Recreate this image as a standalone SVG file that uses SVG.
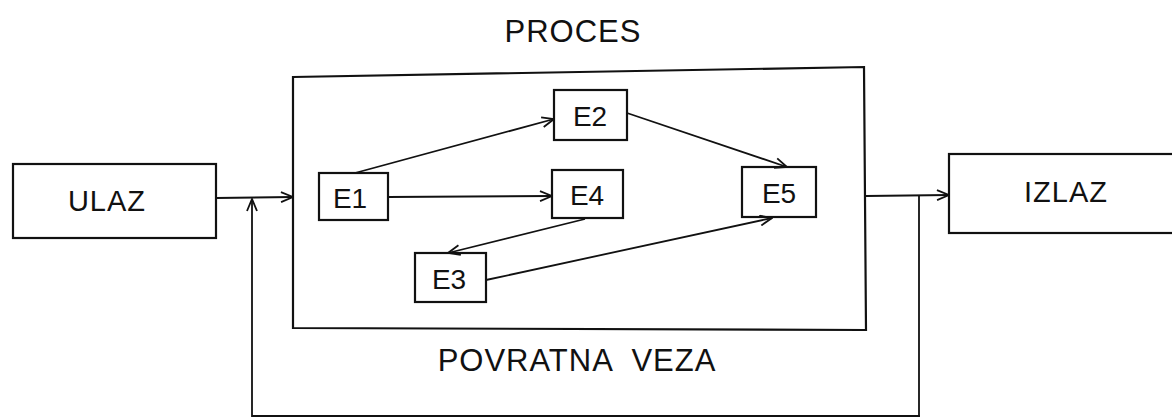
<svg xmlns="http://www.w3.org/2000/svg" width="1172" height="419" viewBox="0 0 1172 419">
<style>
.box{fill:#fff;stroke:#111;stroke-width:2.2}
.ln{fill:none;stroke:#111;stroke-width:1.8}
.lbl{font-family:"Liberation Sans",Arial,sans-serif;fill:#111;text-anchor:middle}
.big{font-size:31px;letter-spacing:1px}
.node{font-size:28px}
</style>
<defs>
<marker id="ah" viewBox="0 0 14 12" refX="13" refY="6" markerWidth="14" markerHeight="12" markerUnits="userSpaceOnUse" orient="auto">
<path d="M1,1 L13,6 L1,11" fill="none" stroke="#111" stroke-width="1.8"/>
</marker>
</defs>
<rect width="1172" height="419" fill="#fff"/>
<text class="lbl big" x="573" y="42">PROCES</text>
<text class="lbl big" x="577" y="371" style="white-space:pre" letter-spacing="2">POVRATNA  VEZA</text>
<g id="proces"><path class="box" d="M293,77 L864,67 L866,330 L293,328 Z"/></g>
<g id="ulaz"><rect class="box" x="13" y="164" width="203" height="74"/><text class="lbl big" x="107" y="211" style="font-size:29px">ULAZ</text></g>
<g id="izlaz"><rect class="box" x="949" y="154" width="240" height="79"/><text class="lbl big" x="1066" y="202" style="font-size:29px">IZLAZ</text></g>
<g id="e1"><rect class="box" x="319" y="173" width="69" height="47"/><text class="lbl node" x="350" y="208">E1</text></g>
<g id="e2"><rect class="box" x="554" y="90" width="73" height="50"/><text class="lbl node" x="590" y="126">E2</text></g>
<g id="e4"><rect class="box" x="552" y="170" width="71" height="48"/><text class="lbl node" x="587" y="205">E4</text></g>
<g id="e5"><rect class="box" x="742" y="167" width="74" height="50"/><text class="lbl node" x="779" y="203">E5</text></g>
<g id="e3"><rect class="box" x="415" y="253" width="71" height="49"/><text class="lbl node" x="449" y="289">E3</text></g>
<g id="connectors">
<path class="ln" d="M216,198 L293,197" marker-end="url(#ah)"/>
<path class="ln" d="M920,416 L252,416 L252,199" marker-end="url(#ah)"/>
<path class="ln" d="M866,196 L949,195" marker-end="url(#ah)"/>
<path class="ln" d="M919,196 L919,416"/>
<path class="ln" d="M355,173 L554,119" marker-end="url(#ah)"/>
<path class="ln" d="M388,197 L552,196" marker-end="url(#ah)"/>
<path class="ln" d="M627,113 L787,167" marker-end="url(#ah)"/>
<path class="ln" d="M585,219 L448,253" marker-end="url(#ah)"/>
<path class="ln" d="M486,280 L772,218" marker-end="url(#ah)"/>
</g>
</svg>
